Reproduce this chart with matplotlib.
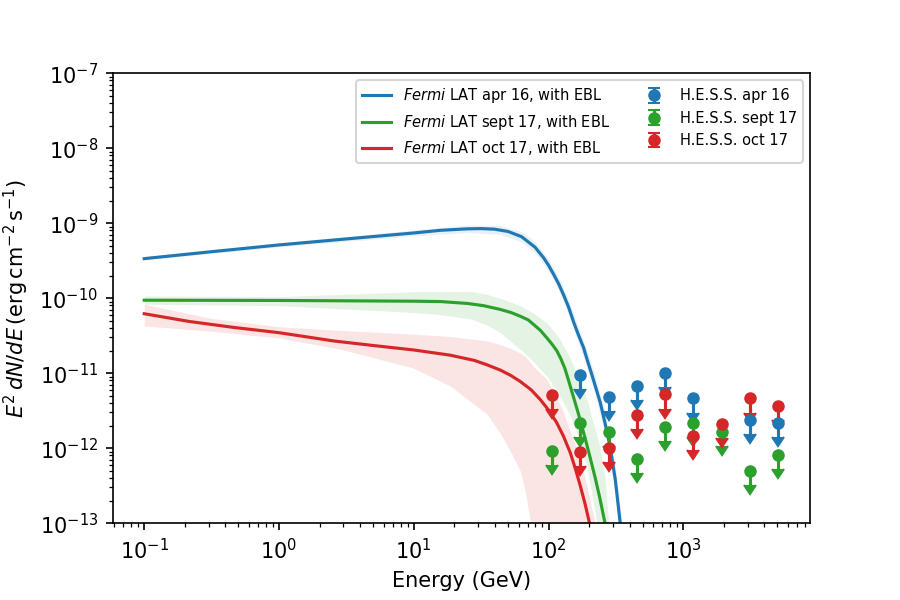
import numpy as np
import matplotlib
matplotlib.use("Agg")
import matplotlib.pyplot as plt

# Fermi LAT model curves (energy in GeV, E^2 dN/dE in erg cm^-2 s^-1)
e_apr16 = [0.1, 0.316, 1, 3.16, 10, 15.8, 25.1, 31.6, 39.8, 50.1, 63.1, 79.4, 91.8, 100, 109,
           119, 129, 141, 153, 166, 182, 195, 209, 224, 242, 263, 286, 313, 340, 363]
f_apr16 = [3.37e-10, 4.17e-10, 5.13e-10, 6.17e-10, 7.41e-10, 8.04e-10, 8.41e-10, 8.47e-10, 8.32e-10,
           7.76e-10, 6.61e-10, 4.79e-10, 3.47e-10, 2.75e-10, 2.09e-10, 1.55e-10, 1.12e-10, 7.59e-11,
           4.90e-11, 3.31e-11, 2.19e-11, 1.45e-11, 9.77e-12, 6.46e-12, 4.07e-12, 2.14e-12, 1.07e-12,
           3.80e-13, 1.02e-13, 3.98e-14]

e_sep17 = [0.1, 1, 10, 15.8, 25.1, 33.1, 43.9, 52.5, 61.7, 70.8, 77.4, 87.1, 97.3, 106, 115,
           123, 132, 141, 151, 166, 182, 200, 221, 240, 262, 282]
f_sep17 = [9.40e-11, 9.33e-11, 9.12e-11, 9.02e-11, 8.51e-11, 7.94e-11, 7.08e-11, 6.46e-11, 5.75e-11,
           5.13e-11, 4.47e-11, 3.72e-11, 2.95e-11, 2.45e-11, 2.00e-11, 1.58e-11, 1.17e-11, 7.94e-12,
           5.25e-12, 2.95e-12, 1.62e-12, 8.51e-13, 4.17e-13, 2.19e-13, 1.02e-13, 5.0e-14]

e_oct17 = [0.1, 0.215, 0.465, 1, 2.55, 5.01, 10, 18.6, 28.2, 35.1, 43.9, 52.5, 61.7, 74.1, 86.7,
           100, 115, 129, 145, 158, 172, 186, 201, 219]
f_oct17 = [6.21e-11, 4.90e-11, 4.07e-11, 3.47e-11, 2.69e-11, 2.34e-11, 2.04e-11, 1.74e-11, 1.48e-11,
           1.29e-11, 1.10e-11, 9.33e-12, 7.76e-12, 6.03e-12, 4.47e-12, 3.24e-12, 2.19e-12, 1.45e-12,
           8.71e-13, 5.37e-13, 3.16e-13, 1.86e-13, 1.02e-13, 5.0e-14]

# uncertainty bands
eb_apr16 = [0.1, 1, 10, 25.1, 43.9, 63.1, 79.4, 100, 119, 141, 166, 195, 224, 263, 313, 363]
lo_apr16 = [3.22e-10, 4.84e-10, 6.76e-10, 7.50e-10, 7.08e-10, 5.62e-10, 4.03e-10, 2.29e-10, 1.26e-10,
            6.03e-11, 2.57e-11, 1.10e-11, 4.79e-12, 1.51e-12, 2.51e-13, 2.51e-14]
hi_apr16 = [3.53e-10, 5.43e-10, 8.13e-10, 9.44e-10, 9.33e-10, 7.76e-10, 5.69e-10, 3.31e-10, 1.91e-10,
            9.55e-11, 4.27e-11, 1.91e-11, 8.71e-12, 3.02e-12, 5.75e-13, 6.31e-14]

eb_sep17 = [0.1, 1, 10, 15.8, 26.9, 35.1, 43.9, 61.7, 77.4, 97.3, 119, 145, 166, 193, 214, 228,
            242, 263, 279, 295]
lo_sep17 = [8.32e-11, 7.94e-11, 6.46e-11, 6.03e-11, 5.25e-11, 4.37e-11, 3.47e-11, 2.09e-11, 1.41e-11,
            9.12e-12, 5.37e-12, 2.69e-12, 1.41e-12, 5.62e-13, 2.0e-13, 1.02e-13, 3.98e-14, 1e-15,
            1e-15, 1e-15]
hi_sep17 = [1.07e-10, 1.05e-10, 1.22e-10, 1.23e-10, 1.23e-10, 1.12e-10, 1.0e-10, 7.94e-11, 6.31e-11,
            4.68e-11, 3.02e-11, 1.58e-11, 8.91e-12, 4.47e-12, 2.24e-12, 1.51e-12, 1.0e-12, 3.98e-13,
            1.02e-13, 3.16e-14]

eb_oct17 = [0.1, 0.316, 1, 2.87, 10, 18.6, 35.1, 43.9, 52.5, 61.7, 67.6, 73.5, 79.4, 97.3, 112,
            129, 148, 172, 195, 221, 251]
lo_oct17 = [4.27e-11, 3.63e-11, 2.95e-11, 2.09e-11, 1.17e-11, 6.76e-12, 2.82e-12, 1.58e-12, 8.91e-13,
            5.01e-13, 2.51e-13, 1.02e-13, 3.16e-14, 1e-15, 1e-15, 1e-15, 1e-15, 1e-15, 1e-15,
            1e-15, 1e-15]
hi_oct17 = [8.32e-11, 5.37e-11, 4.17e-11, 3.72e-11, 3.31e-11, 3.09e-11, 2.69e-11, 2.40e-11, 2.14e-11,
            1.86e-11, 1.66e-11, 1.38e-11, 1.17e-11, 8.32e-12, 5.25e-12, 3.02e-12, 1.51e-12, 7.08e-13,
            2.82e-13, 1.02e-13, 3.16e-14]

# H.E.S.S. upper limits
e_hess = [106, 172, 279, 452, 733, 1189, 1928, 3126, 5070]
ul_apr16 = [np.nan, 9.4e-12, 4.8e-12, 6.8e-12, 1.0e-11, 4.6e-12, np.nan, 2.37e-12, 2.2e-12]
ul_sep17 = [9.2e-13, 2.2e-12, 1.65e-12, 7.2e-13, 1.9e-12, 2.14e-12, 1.65e-12, 5.0e-13, 8.2e-13]
ul_oct17 = [5.1e-12, 8.8e-13, 1.02e-12, 2.8e-12, 5.2e-12, 1.46e-12, 2.1e-12, 4.6e-12, 3.7e-12]

arrow_frac = 0.35

fig, ax = plt.subplots(figsize=(6, 4), dpi=150)
fig.subplots_adjust(left=0.125, right=0.9, top=0.878, bottom=0.128)

ax.fill_between(eb_apr16, lo_apr16, hi_apr16, color='tab:blue', alpha=0.1, lw=0)
ax.fill_between(eb_sep17, lo_sep17, hi_sep17, color='tab:green', alpha=0.12, lw=0)
ax.fill_between(eb_oct17, lo_oct17, hi_oct17, color='tab:red', alpha=0.12, lw=0)

l1, = ax.plot(e_apr16, f_apr16, color='tab:blue', lw=1.5, label=r'$\mathit{Fermi}$ LAT apr 16, with EBL')
l2, = ax.plot(e_sep17, f_sep17, color='tab:green', lw=1.5, label=r'$\mathit{Fermi}$ LAT sept 17, with EBL')
l3, = ax.plot(e_oct17, f_oct17, color='tab:red', lw=1.5, label=r'$\mathit{Fermi}$ LAT oct 17, with EBL')

handles = [l1, l2, l3]
for ul, c, lab in [(ul_apr16, 'tab:blue', 'H.E.S.S. apr 16'),
                   (ul_sep17, 'tab:green', 'H.E.S.S. sept 17'),
                   (ul_oct17, 'tab:red', 'H.E.S.S. oct 17')]:
    ul = np.array(ul)
    h = ax.errorbar(e_hess, ul, yerr=arrow_frac * ul, uplims=True, fmt='o', color=c,
                    ms=5, elinewidth=1.5, label=lab)
    handles.append(h)

ax.set_xscale('log')
ax.set_yscale('log')
ax.set_ylim(1e-13, 1e-7)
ax.set_xlabel('Energy (GeV)')
ax.set_ylabel(r'$E^2\,dN/dE\,\mathrm{(erg\,cm^{-2}\,s^{-1})}$')

ax.legend(handles=handles, ncol=2, fontsize=7, loc='upper right')

fig.savefig('out.png', dpi=150)
